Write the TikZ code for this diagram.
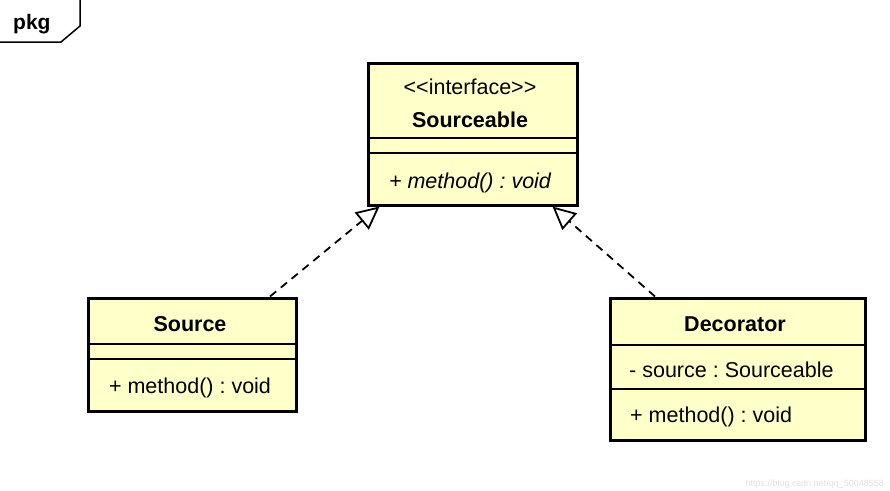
\documentclass[tikz,border=0pt]{standalone}
\usepackage{fontspec}
\setmainfont{Liberation Sans}
\usetikzlibrary{arrows.meta}
\definecolor{classfill}{RGB}{255,255,202}
\frenchspacing
\tikzset{
  classbox/.style={draw,fill=classfill,line width=3pt,inner sep=0pt},
  divider/.style={line width=1.5pt},
  realize/.style={line width=1.8pt,dash pattern=on 8pt off 6pt,
    -{Triangle[open,length=23pt,width=22pt,line width=1.8pt]}},
  umltext/.style={font=\fontsize{21.5}{26}\selectfont,inner sep=0pt,anchor=base},
}
\begin{document}
\begin{tikzpicture}[x=1pt,y=-1pt]
\useasboundingbox (0,0) rectangle (890,490);

% Package frame
\draw[line width=1.5pt] (0,42) -- (61,42) -- (80,26) -- (80,0);
\node[umltext,anchor=base west,font=\fontsize{21}{26}\selectfont\bfseries] (pkg) at (13,29) {pkg};

% Classes
\node[classbox,minimum width=209pt,minimum height=142pt] (sourceable) at (472.5,134) {};
\node[classbox,minimum width=208pt,minimum height=113pt] (source) at (192,354.5) {};
\node[classbox,minimum width=255pt,minimum height=142pt] (decorator) at (737.5,369) {};

% Compartments
\draw[divider] (368,138) -- (577,138);
\draw[divider] (368,153) -- (577,153);
\draw[divider] (88,344) -- (296,344);
\draw[divider] (88,359) -- (296,359);
\draw[divider] (610,345) -- (865,345);
\draw[divider] (610,389) -- (865,389);

% Texts
\node[umltext] (stereo) at (470,94) {<{}<interface>{}>};
\node[umltext,font=\fontsize{21.5}{26}\selectfont\bfseries] (ifname) at (470,127) {Sourceable};
\node[umltext,font=\fontsize{21.5}{26}\selectfont\itshape] (ifop) at (470,188) {+ method() : void};
\node[umltext,font=\fontsize{21.5}{26}\selectfont\bfseries] (srcname) at (190,331) {Source};
\node[umltext] (srcop) at (190,393) {+ method() : void};
\node[umltext,font=\fontsize{21.5}{26}\selectfont\bfseries] (decname) at (735,331) {Decorator};
\node[umltext,anchor=base west] (decattr) at (629,377) {- source : Sourceable};
\node[umltext,anchor=base west] (decop) at (630,422) {+ method() : void};

% Realizations
\coordinate (srcTail) at ([xshift=78pt]source.north);
\coordinate (decTail) at ([xshift=-82.5pt]decorator.north);
\coordinate (leftTip) at ([xshift=-93pt]sourceable.south);
\coordinate (rightTip) at ([xshift=80pt]sourceable.south);
\draw[realize] (srcTail) -- (leftTip);
\draw[realize] (decTail) -- (rightTip);

% Watermark
\node[anchor=base east,inner sep=0pt,text=black!12,font=\fontsize{9}{10}\selectfont] (mark) at (884,486) {https://blog.csdn.net/qq\_50048558};

\end{tikzpicture}
\end{document}
